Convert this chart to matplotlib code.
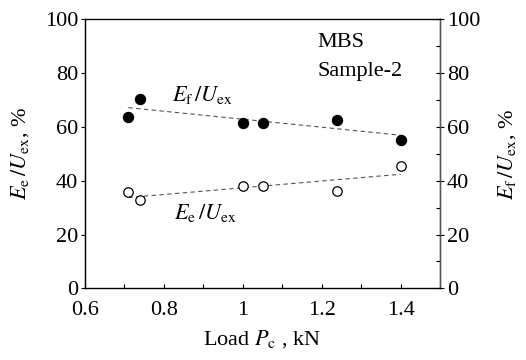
import numpy as np
import matplotlib
matplotlib.use("Agg")
import matplotlib.pyplot as plt

plt.rcParams["font.family"] = ["Liberation Serif", "DejaVu Serif"]
plt.rcParams["mathtext.fontset"] = "stix"

# data
load_kn = [0.71, 0.74, 1.00, 1.05, 1.24, 1.40]
ef_uex = [63.8, 70.6, 61.6, 61.6, 62.6, 55.1]
ee_uex = [35.7, 32.8, 38.0, 38.0, 36.2, 45.5]

x_ticks = [0.6, 0.8, 1.0, 1.2, 1.4]
x_tick_labels = ["0.6", "0.8", "1", "1.2", "1.4"]
y_ticks = [0, 20, 40, 60, 80, 100]

fs = 16

fig = plt.figure(figsize=(5.26, 3.60), dpi=100)
ax = fig.add_axes([0.1616, 0.199, 0.675, 0.747])

# linear trend lines (least squares fit of each series)
xs = np.array([min(load_kn), max(load_kn)])
for vals in (ef_uex, ee_uex):
    k, b = np.polyfit(load_kn, vals, 1)
    ax.plot(xs, k * xs + b, ls=(0, (4, 3)), color="#555555", lw=0.8, zorder=1)

ax.plot(load_kn, ef_uex, "o", color="black", ms=7.2, zorder=3)
ax.plot(load_kn, ee_uex, "o", mfc="white", mec="black", mew=0.9, ms=6.8, zorder=3)

ax.set_xlim(0.6, 1.5)
ax.set_ylim(0, 100)
ax.set_xticks(x_ticks)
ax.set_xticklabels(x_tick_labels)
ax.set_xticks(np.arange(0.7, 1.5, 0.1), minor=True)
ax.set_yticks(y_ticks)
ax.tick_params(axis="x", direction="in", length=3, width=0.8, labelsize=fs, pad=9)
ax.tick_params(axis="x", which="minor", direction="in", length=3, width=0.8)
ax.tick_params(axis="y", direction="out", length=3, width=0.8, labelsize=fs, pad=2)
for s in ax.spines.values():
    s.set_linewidth(1.0)
ax.spines["top"].set_color("#555555")
ax.spines["bottom"].set_color("#444444")

ax2 = ax.twinx()
ax2.set_ylim(0, 100)
ax2.set_yticks(y_ticks)
ax2.set_yticks(np.arange(10, 100, 20), minor=True)
ax2.tick_params(axis="y", which="major", direction="inout", length=6, width=0.8, labelsize=fs, pad=2)
ax2.tick_params(axis="y", which="minor", direction="in", length=3, width=0.8)
ax2.spines["right"].set_color("#555555")

ax.set_xlabel(r"Load $P_\mathrm{c}$ , kN", fontsize=fs, labelpad=6)
ax.set_ylabel(r"$E_\mathrm{e}\,/U_\mathrm{ex}$, %", fontsize=fs, labelpad=10)
ax2.set_ylabel(r"$E_\mathrm{f}\,/U_\mathrm{ex}$, %", fontsize=fs, labelpad=11)

ax.text(1.19, 91.5, "MBS", fontsize=fs, va="center", ha="left")
ax.text(1.19, 80.8, "Sample-2", fontsize=fs, va="center", ha="left")
ax.text(0.82, 72, r"$E_\mathrm{f}\,/U_\mathrm{ex}$", fontsize=fs, va="center", ha="left")
ax.text(0.825, 28, r"$E_\mathrm{e}\,/U_\mathrm{ex}$", fontsize=fs, va="center", ha="left")

fig.savefig("out.png", dpi=100)
